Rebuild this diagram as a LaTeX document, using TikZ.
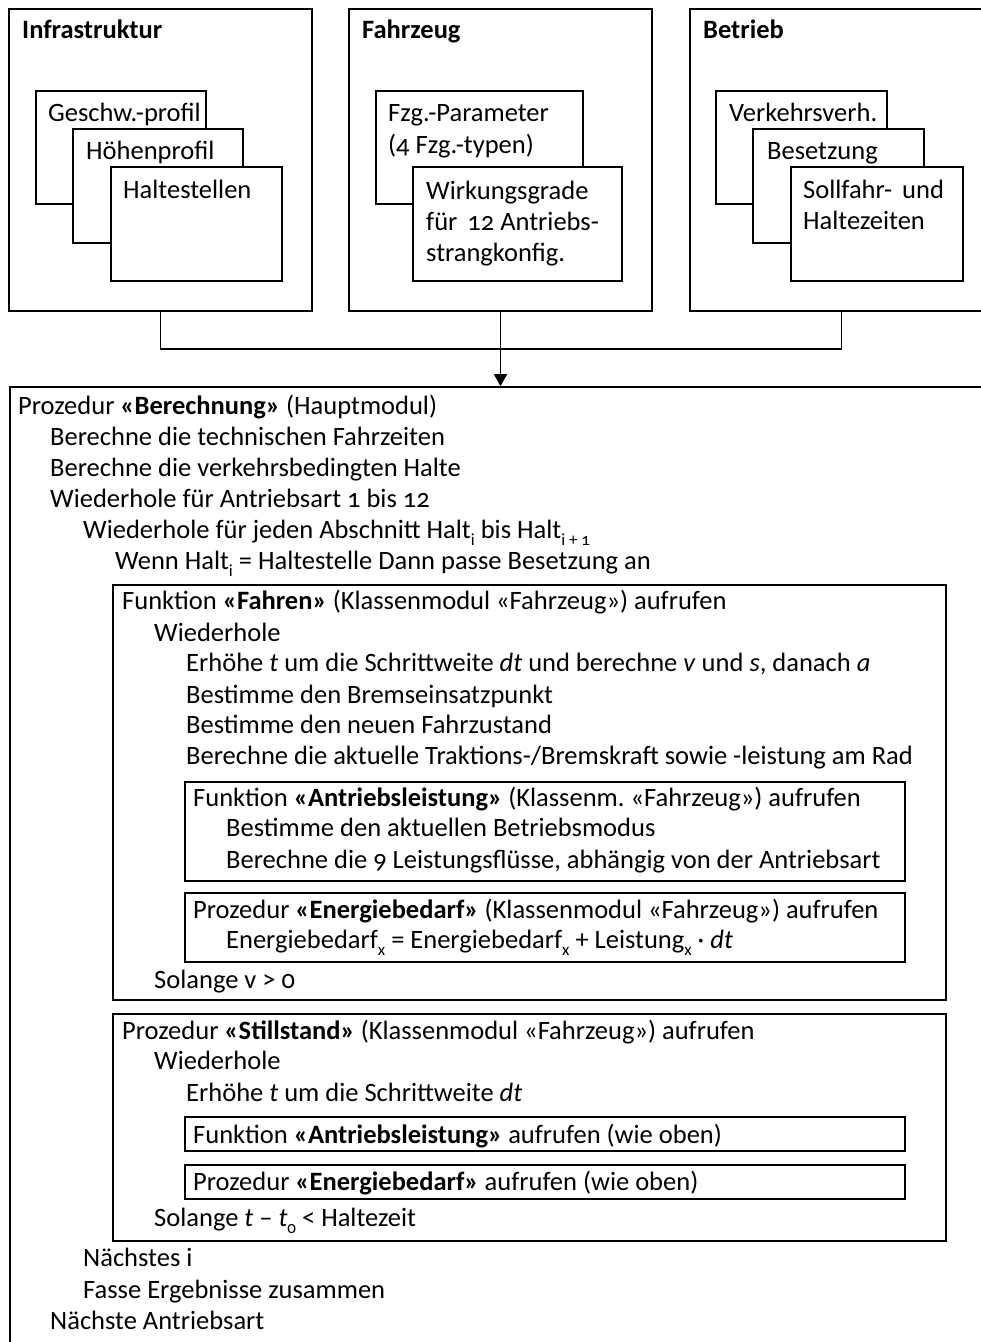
\documentclass[tikz,border=0pt]{standalone}
\usepackage{fontspec}
\setmainfont[Numbers=OldStyle]{Carlito}
\usetikzlibrary{fit,arrows.meta}
\newcommand\lowsub[1]{\raisebox{-0.28em}{\fontsize{17}{17}\selectfont #1}}
\begin{document}
\frenchspacing
\begin{tikzpicture}[x=1pt,y=-1pt,
  box/.style={draw, line width=1.7pt, fill=white, inner sep=0pt},
  txt/.style={anchor=base west, inner sep=0pt, font=\fontsize{26.5}{31}\selectfont},
  conn/.style={line width=1.7pt}]
\useasboundingbox (0,0) rectangle (981,1342);
\begin{scope}
\clip (0,0) rectangle (981,1342);
% --- top boxes ---
\node[box, fit={(9,9) (312,311)}] (infra) {};
\node[box, fit={(349,9) (652,311)}] (fzg) {};
\node[box, fit={(690,9) (993,311)}] (betr) {};
\node[txt] (tinfra) at (22,38) {\textbf{Infrastruktur}};
\node[txt] (tfzg) at (362,38) {\textbf{Fahrzeug}};
\node[txt] (tbetr) at (703,38) {\textbf{Betrieb}};
% Infrastruktur stack
\node[box, fit={(36,91) (206,204)}] (geschw) {};
\node[box, fit={(73,129) (243,243)}] (hoehe) {};
\node[box, fit={(111,167) (282,281)}] (halte) {};
\node[txt] (tgeschw) at (48,121) {Geschw.-profil};
\node[txt] (thoehe) at (86,159) {Höhenprofil};
\node[txt] (thalte) at (123,198) {Haltestellen};
% Fahrzeug stack
\node[box, fit={(376,91) (583,204)}] (param) {};
\node[box, fit={(413,167) (622,281)}] (wirk) {};
\node[txt] (tparam1) at (388,121) {Fzg.-Parameter};
\node[txt] (tparam2) at (388,153) {(4 Fzg.-typen)};
\node[txt] (twirk1) at (426,199) {Wirkungsgrade};
\node[txt] (twirk2) at (426,230) {für\hspace{4pt} 12 Antriebs-};
\node[txt] (twirk3) at (426,261) {strangkonfig.};
% Betrieb stack
\node[box, fit={(716,91) (887,204)}] (verk) {};
\node[box, fit={(753,129) (924,243)}] (bes) {};
\node[box, fit={(791,167) (963,281)}] (soll) {};
\node[txt] (tverk) at (729,121) {Verkehrsverh.};
\node[txt] (tbes) at (767,159) {Besetzung};
\node[txt] (tsoll1) at (803,198) {Sollfahr-\hspace{4pt} und};
\node[txt] (tsoll2) at (803,229) {Haltezeiten};
% --- main procedure box ---
\node[box, fit={(10,387) (1010,1360)}] (main) {};
% connectors
\draw[conn] (infra.south) -- ++(0,37) -| (betr.south);
\draw[conn, -{Triangle[width=13pt,length=12pt]}] (fzg.south) -- (fzg.south |- main.north);
% main text
\node[txt] (m1) at (18,414) {Prozedur \textbf{«Berechnung»} (Hauptmodul)};
\node[txt] (m2) at (50,445) {Berechne die technischen Fahrzeiten};
\node[txt] (m3) at (50,476) {Berechne die verkehrsbedingten Halte};
\node[txt] (m4) at (50,507) {Wiederhole für Antriebsart 1 bis 12};
\node[txt] (m5) at (83,538) {Wiederhole für jeden Abschnitt Halt\lowsub{i} bis Halt\lowsub{i + 1}};
\node[txt] (m6) at (115,569) {Wenn Halt\lowsub{i} = Haltestelle Dann passe Besetzung an};
% Fahren
\node[box, fit={(113,585) (946,1000)}] (fahren) {};
\node[txt] (f1) at (122,609) {Funktion \textbf{«Fahren»} (Klassenmodul «Fahrzeug») aufrufen};
\node[txt] (f2) at (154,641) {Wiederhole};
\node[txt] (f3) at (186,671) {Erhöhe \textit{t} um die Schrittweite \textit{dt} und berechne \textit{v} und \textit{s}, danach \textit{a}};
\node[txt] (f4) at (186,703) {Bestimme den Bremseinsatzpunkt};
\node[txt] (f5) at (186,733) {Bestimme den neuen Fahrzustand};
\node[txt] (f6) at (186,764) {Berechne die aktuelle Traktions-/Bremskraft sowie -leistung am Rad};
\node[box, fit={(185,782) (905,881)}] (antr) {};
\node[txt] (a1) at (193,806) {Funktion \textbf{«Antriebsleistung»} (Klassenm. «Fahrzeug») aufrufen};
\node[txt] (a2) at (226,836) {Bestimme den aktuellen Betriebsmodus};
\node[txt] (a3) at (226,868) {Berechne die 9 Leistungsflüsse, abhängig von der Antriebsart};
\node[box, fit={(185,893) (905,962)}] (energ) {};
\node[txt] (e1) at (193,918) {Prozedur \textbf{«Energiebedarf»} (Klassenmodul «Fahrzeug») aufrufen};
\node[txt] (e2) at (226,948) {Energiebedarf\lowsub{x} = Energiebedarf\lowsub{x} + Leistung\lowsub{x} · \textit{dt}};
\node[txt] (f7) at (154,988) {Solange v > 0};
% Stillstand
\node[box, fit={(113,1014) (946,1241)}] (still) {};
\node[txt] (s1) at (122,1039) {Prozedur \textbf{«Stillstand»} (Klassenmodul «Fahrzeug») aufrufen};
\node[txt] (s2) at (154,1069) {Wiederhole};
\node[txt] (s3) at (186,1101) {Erhöhe \textit{t} um die Schrittweite \textit{dt}};
\node[box, fit={(185,1117) (905,1151)}] (antr2) {};
\node[txt] (s4) at (193,1143) {Funktion \textbf{«Antriebsleistung»} aufrufen (wie oben)};
\node[box, fit={(185,1165) (905,1199)}] (energ2) {};
\node[txt] (s5) at (193,1190) {Prozedur \textbf{«Energiebedarf»} aufrufen (wie oben)};
\node[txt] (s6) at (154,1226) {Solange \textit{t} – \textit{t}\lowsub{0} < Haltezeit};
% tail
\node[txt] (n1) at (83,1266) {Nächstes i};
\node[txt] (n2) at (83,1298) {Fasse Ergebnisse zusammen};
\node[txt] (n3) at (50,1329) {Nächste Antriebsart};
\end{scope}
\end{tikzpicture}
\end{document}
